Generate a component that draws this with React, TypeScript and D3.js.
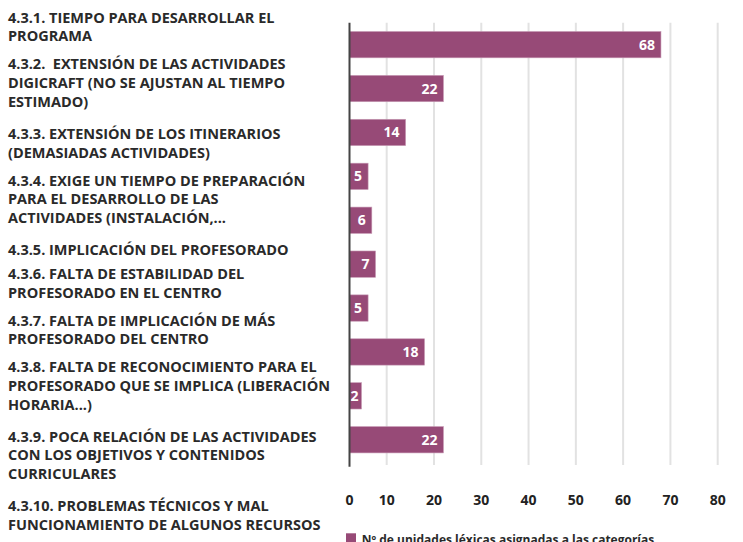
import React, { useEffect, useRef } from "react";
import * as d3 from "d3";

// category labels, split into lines as printed
const labels: string[][] = [
  ["4.3.1. TIEMPO PARA DESARROLLAR EL", "PROGRAMA"],
  ["4.3.2.  EXTENSIÓN DE LAS ACTIVIDADES", "DIGICRAFT (NO SE AJUSTAN AL TIEMPO", "ESTIMADO)"],
  ["4.3.3. EXTENSIÓN DE LOS ITINERARIOS", "(DEMASIADAS ACTIVIDADES)"],
  ["4.3.4. EXIGE UN TIEMPO DE PREPARACIÓN", "PARA EL DESARROLLO DE LAS", "ACTIVIDADES (INSTALACIÓN,..."],
  ["4.3.5. IMPLICACIÓN DEL PROFESORADO"],
  ["4.3.6. FALTA DE ESTABILIDAD DEL", "PROFESORADO EN EL CENTRO"],
  ["4.3.7. FALTA DE IMPLICACIÓN DE MÁS", "PROFESORADO DEL CENTRO"],
  ["4.3.8. FALTA DE RECONOCIMIENTO PARA EL", "PROFESORADO QUE SE IMPLICA (LIBERACIÓN", "HORARIA...)"],
  ["4.3.9. POCA RELACIÓN DE LAS ACTIVIDADES", "CON LOS OBJETIVOS Y CONTENIDOS", "CURRICULARES"],
  ["4.3.10. PROBLEMAS TÉCNICOS Y MAL", "FUNCIONAMIENTO DE ALGUNOS RECURSOS"],
];
const values: number[] = [68, 22, 14, 5, 6, 7, 5, 18, 2, 22];
const ticks: number[] = [0, 10, 20, 30, 40, 50, 60, 70, 80];
const legendLabel = "Nº de unidades léxicas asignadas a las categorías";

const W = 743;
const H = 542;
const FONT = "'Open Sans', sans-serif";
const BAR = "#974a77";

export default function App() {
  const ref = useRef<SVGSVGElement>(null);

  useEffect(() => {
    const svg = d3.select(ref.current);
    svg.selectAll("*").remove();

    // axis is squeezed between 0 and 10 in the original
    const x = d3.scaleLinear().domain([0, 10, 80]).range([349.5, 386.7, 717.7]);
    const y = d3
      .scaleBand<number>()
      .domain(values.map((_, i) => i))
      .range([22.7, 461.7])
      .paddingInner(0.4)
      .paddingOuter(0.2);

    // gridlines
    svg.append("g")
      .selectAll("line")
      .data(ticks.filter(t => t > 0))
      .enter()
      .append("line")
      .attr("x1", d => x(d))
      .attr("x2", d => x(d))
      .attr("y1", 22.7)
      .attr("y2", 465)
      .attr("stroke", "#e2e2e2")
      .attr("stroke-width", 2);

    // bars
    const bars = svg.append("g")
      .selectAll("g")
      .data(values)
      .enter()
      .append("g");

    bars.append("rect")
      .attr("x", x(0))
      .attr("y", (d, i) => y(i)!)
      .attr("width", d => Math.max(x(d) - x(0), 12))
      .attr("height", y.bandwidth())
      .attr("fill", BAR)
      .attr("stroke", "#c79bb5")
      .attr("stroke-width", 0.6);

    bars.append("text")
      .attr("x", d => Math.max(x(d) - 6, x(0) + 9))
      .attr("y", (d, i) => y(i)! + y.bandwidth() / 2)
      .attr("dy", "0.36em")
      .attr("text-anchor", "end")
      .attr("fill", "#fff")
      .style("font-family", FONT)
      .style("font-weight", 700)
      .style("font-size", "14px")
      .text(d => d);

    // y axis line
    svg.append("line")
      .attr("x1", x(0))
      .attr("x2", x(0))
      .attr("y1", 22.7)
      .attr("y2", 466.7)
      .attr("stroke", "#444")
      .attr("stroke-width", 2);

    // tick labels
    svg.append("g")
      .selectAll("text")
      .data(ticks)
      .enter()
      .append("text")
      .attr("x", d => x(d))
      .attr("y", 505)
      .attr("text-anchor", "middle")
      .attr("fill", "#222")
      .style("font-family", FONT)
      .style("font-weight", 700)
      .style("font-size", "14px")
      .text(d => d);

    // category labels, stacked top to bottom
    const lineH = 18.7;
    let base = 22.7;
    const lab = svg.append("g")
      .attr("fill", "#2a2a2a")
      .style("font-family", FONT)
      .style("font-weight", 700)
      .style("font-size", "14.5px");
    labels.forEach(lines => {
      lines.forEach((line, j) => {
        lab.append("text")
          .attr("x", 8)
          .attr("y", base + j * lineH)
          .attr("xml:space", "preserve")
          .style("white-space", "pre")
          .text(line);
      });
      base += (lines.length - 1) * lineH + 20 + 4 * lines.length;
    });

    // legend
    svg.append("rect")
      .attr("x", 346)
      .attr("y", 533.3)
      .attr("width", 10)
      .attr("height", 10)
      .attr("fill", BAR);
    svg.append("text")
      .attr("x", 361.7)
      .attr("y", 543.5)
      .attr("fill", "#2a2a2a")
      .style("font-family", FONT)
      .style("font-weight", 700)
      .style("font-size", "12px")
      .text(legendLabel);
  }, []);

  return (
    <svg
      ref={ref}
      width={W}
      height={H}
      style={{ position: "absolute", left: 0, top: 0, background: "#fff" }}
    />
  );
}
